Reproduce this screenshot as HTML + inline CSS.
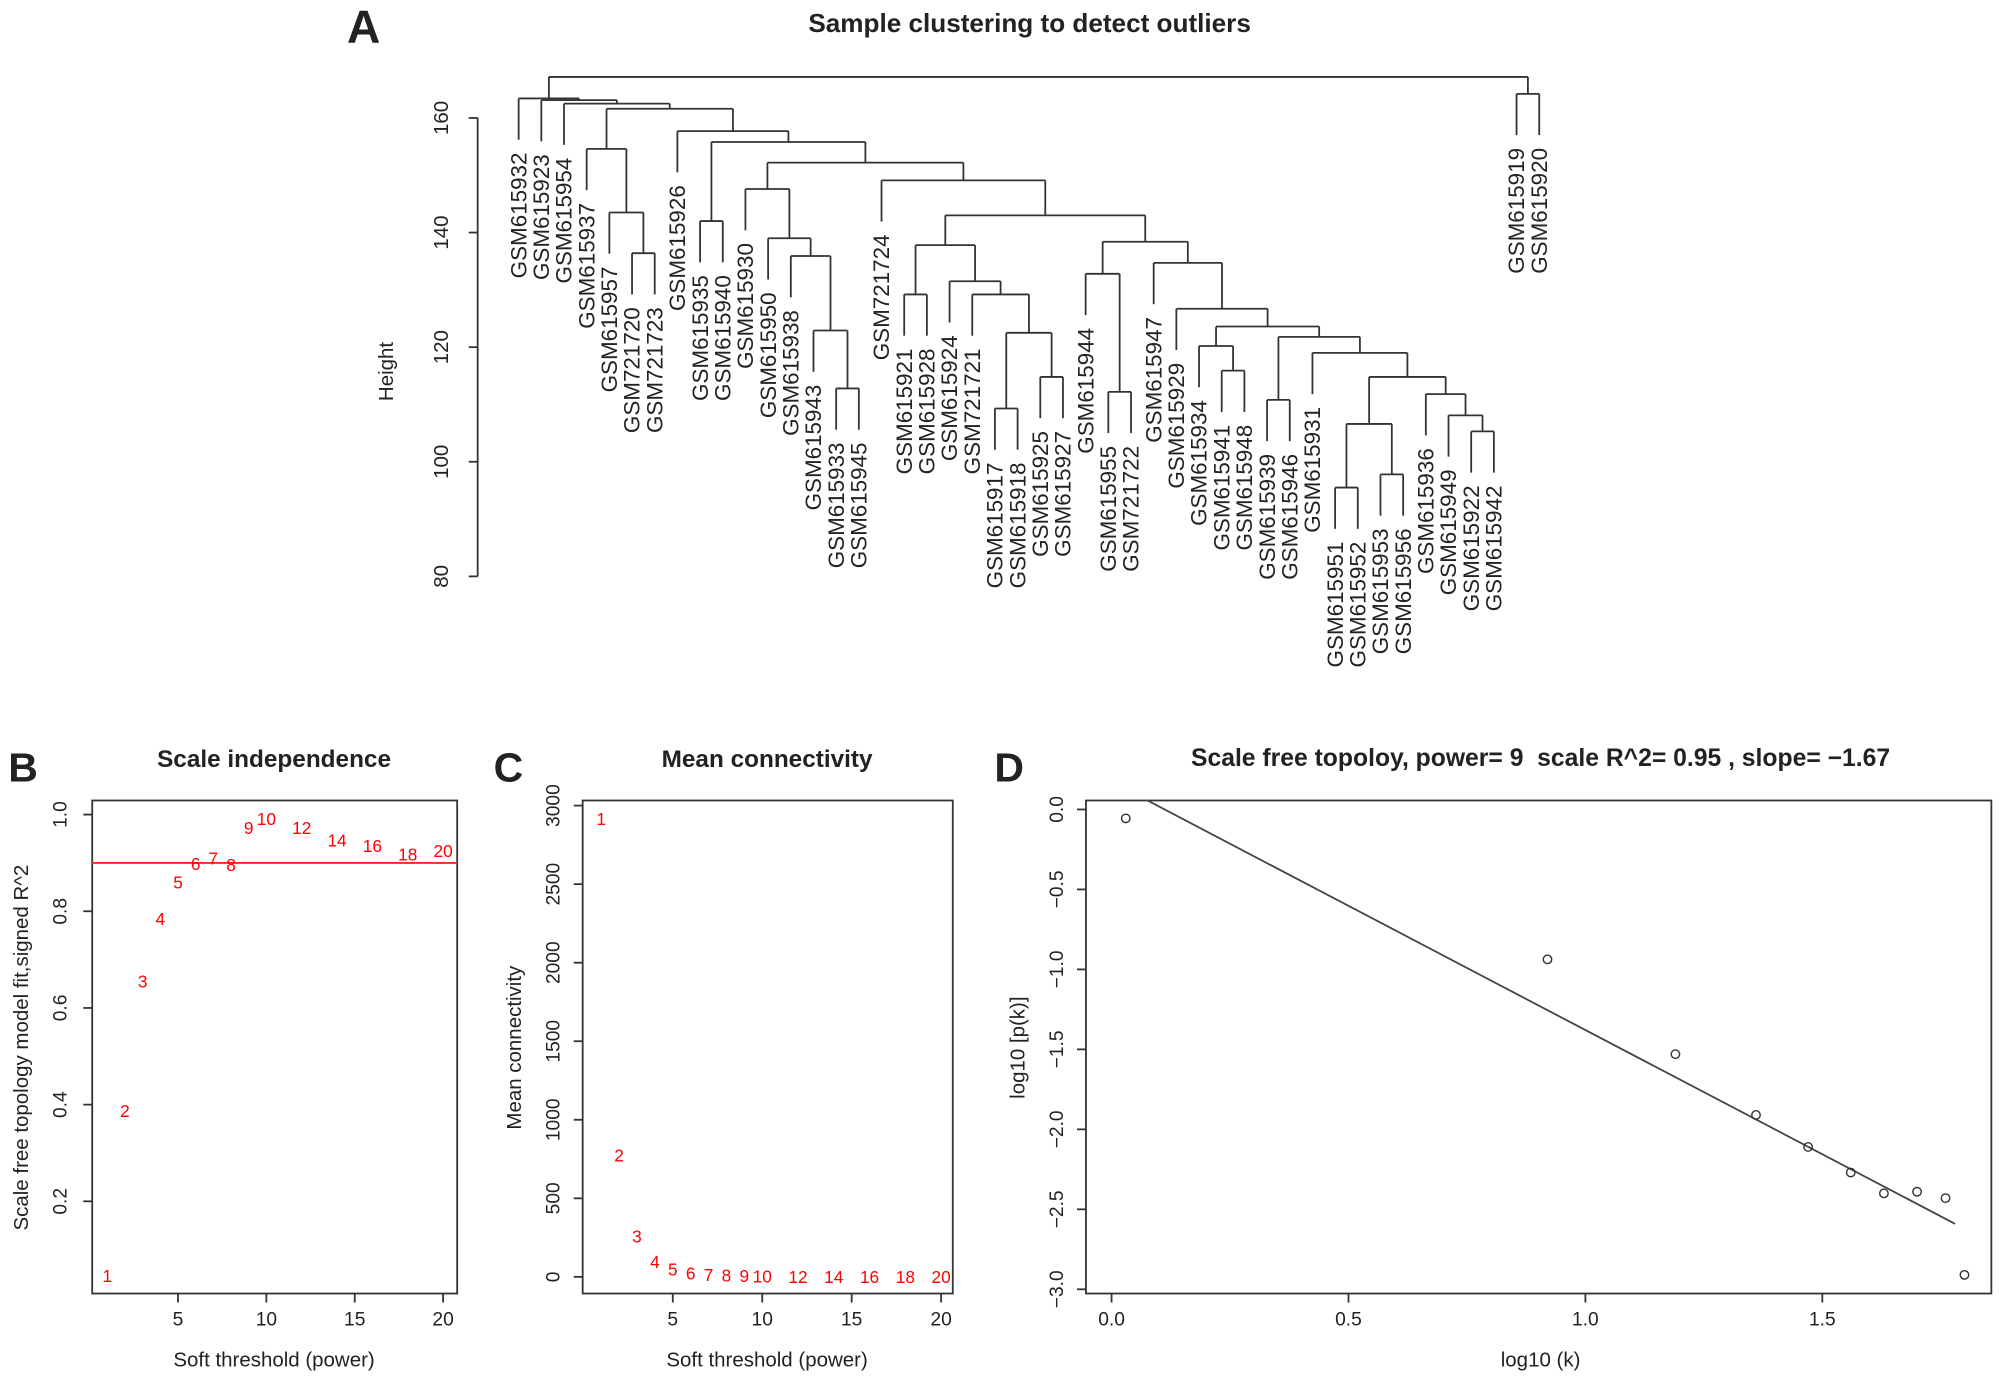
<!DOCTYPE html>
<html><head><meta charset="utf-8"><style>
html,body{margin:0;padding:0;background:#fff;}
svg{display:block;font-family:"Liberation Sans",Arial,sans-serif;}
</style></head><body>
<svg id="fig" width="2008" height="1382" viewBox="0 0 1568 1079" xmlns="http://www.w3.org/2000/svg">
<g id="pa"></g>
<g id="pb"></g>
<g id="pc"></g>
<g id="pd"></g>
</svg>
<script>
// ---------- Data ----------
var sampleNames = ["GSM615932","GSM615923","GSM615954","GSM615937","GSM615957","GSM721720","GSM721723","GSM615926","GSM615935","GSM615940","GSM615930","GSM615950","GSM615938","GSM615943","GSM615933","GSM615945","GSM721724","GSM615921","GSM615928","GSM615924","GSM721721","GSM615917","GSM615918","GSM615925","GSM615927","GSM615944","GSM615955","GSM721722","GSM615947","GSM615929","GSM615934","GSM615941","GSM615948","GSM615939","GSM615946","GSM615931","GSM615951","GSM615952","GSM615953","GSM615956","GSM615936","GSM615949","GSM615922","GSM615942","GSM615919","GSM615920"];
// merges: [left, right, height]; leaves are 1-based indices
var m6_7 = [6,7,136.4];
var m5 = [5,m6_7,143.5];
var m4 = [4,m5,154.6];
var m9_10 = [9,10,142.0];
var m15_16 = [15,16,112.8];
var m14 = [14,m15_16,122.9];
var m13 = [13,m14,135.9];
var m12 = [12,m13,139.0];
var m11 = [11,m12,147.6];
var m18_19 = [18,19,129.2];
var m22_23 = [22,23,109.3];
var m24_25 = [24,25,114.8];
var m22_25 = [m22_23,m24_25,122.5];
var m21 = [21,m22_25,129.2];
var m20 = [20,m21,131.5];
var m18_25 = [m18_19,m20,137.8];
var m27_28 = [27,28,112.2];
var m26 = [26,m27_28,132.8];
var m32_33 = [32,33,115.9];
var m31 = [31,m32_33,120.2];
var m34_35 = [34,35,110.8];
var m37_38 = [37,38,95.5];
var m39_40 = [39,40,97.8];
var m37_40 = [m37_38,m39_40,106.6];
var m43_44 = [43,44,105.3];
var m42 = [42,m43_44,108.1];
var m41 = [41,m42,111.8];
var m37_44 = [m37_40,m41,114.8];
var m36 = [36,m37_44,119.0];
var m34_44 = [m34_35,m36,121.8];
var m31_44 = [m31,m34_44,123.6];
var m30 = [30,m31_44,126.7];
var m29 = [29,m30,134.7];
var m26_44 = [m26,m29,138.4];
var m18_44 = [m18_25,m26_44,143.0];
var m17 = [17,m18_44,149.1];
var m11_44 = [m11,m17,152.2];
var m9_44 = [m9_10,m11_44,155.8];
var m8 = [8,m9_44,157.7];
var m4_44 = [m4,m8,161.6];
var m3 = [3,m4_44,162.5];
var m2 = [2,m3,163.1];
var m1 = [1,m2,163.4];
var m45_46 = [45,46,164.2];
var clusterRoot = [m1,m45_46,167.15];
var heightTicks = [80,100,120,140,160];
var powers = [1,2,3,4,5,6,7,8,9,10,12,14,16,18,20];
var r2Values = [0.046,0.388,0.656,0.785,0.86,0.899,0.91,0.897,0.973,0.992,0.973,0.947,0.936,0.918,0.926];
var r2Cutoff = [0.9];
var meanK = [2918,774,261,98,49,24,15,10,7,5,3,2,1,1,1];
var bTicksX = [5,10,15,20];
var bTicksY = [0.2,0.4,0.6,0.8,1.0];
var cTicksY = [0,500,1000,1500,2000,2500,3000];
var logK = [0.03,0.92,1.19,1.36,1.47,1.56,1.63,1.70,1.76,1.80];
var logPk = [-0.056,-0.937,-1.53,-1.91,-2.11,-2.27,-2.40,-2.39,-2.43,-2.91];
var fitLine = [0.174,-1.553];
var fitRange = [0.0,1.78];
var dTicksX = [0.0,0.5,1.0,1.5];
var dTicksY = [0.0,-0.5,-1.0,-1.5,-2.0,-2.5,-3.0];

var NS = "http://www.w3.org/2000/svg";
var LC = "#333";
function mk(parent, tag, attrs, text){
  var e = document.createElementNS(NS, tag);
  for (var k in attrs) e.setAttribute(k, attrs[k]);
  if (text !== undefined) e.textContent = text;
  parent.appendChild(e);
  return e;
}
function line(p, x1,y1,x2,y2, name, col, w){
  var e = mk(p,"line",{x1:x1,y1:y1,x2:x2,y2:y2,stroke:col||LC,"stroke-width":w||1.4});
  
  
  return e;
}
function txt(p, x,y,s,opts,name){
  var a = {x:x,y:y,"font-size":opts.size||15,"text-anchor":opts.anchor||"middle",fill:opts.fill||"#222"};
  if (opts.bold) a["font-weight"]="bold";
  if (opts.rot) a.transform="rotate(-90 "+x+" "+y+")";
  var e = mk(p,"text",a,s);
  
  
  return e;
}
function box(g, x1,y1,x2,y2){
  var r = mk(g,"rect",{x:x1,y:y1,width:x2-x1,height:y2-y1,fill:"none",stroke:LC,"stroke-width":1.4});
  
  
}

// ---------- Panel A ----------
try {
  var gA = document.getElementById('pa');
  var x0 = 405, dx = 17.71, hang = 7.2;
  var yA = function(h){ return 450 - (h-80)*4.475; };
  var lx = function(i){ return x0 + (i-1)*dx; };
  var drawNode = function(node){
    if (typeof node === 'number') return {x: lx(node), leaf:true, i:node};
    var L = drawNode(node[0]), R = drawNode(node[1]);
    var h = node[2], y = yA(h);
    [L,R].forEach(function(c){
      var yb = c.leaf ? yA(h-hang) : yA(c.h);
      line(gA, c.x, y, c.x, yb, c.leaf ? 'leaf-branch' : 'dendrogram-branch');
      if (c.leaf){
        txt(gA, c.x+6, yb+10, sampleNames[c.i-1], {size:17.5, anchor:"end", rot:true}, 'leaf-label');
      }
    });
    line(gA, L.x, y, R.x, y, 'dendrogram-merge');
    return {x:(L.x+R.x)/2, h:h, leaf:false};
  };
  drawNode(clusterRoot);
  line(gA, 373, yA(80), 373, yA(160), 'y-axis-line');
  heightTicks.forEach(function(t){
    line(gA, 366, yA(t), 373, yA(t), 'y-tick');
    txt(gA, 350, yA(t), String(t), {size:16, rot:true}, 'y-tick-label');
  });
  txt(gA, 307, 290, "Height", {size:16, rot:true}, 'y-axis-title');
  txt(gA, 804, 25, "Sample clustering to detect outliers", {size:20.4, bold:true}, 'chart-title');
  txt(gA, 284, 33, "A", {size:36, bold:true}, 'panel-label-a');
} catch(e) { console.log(e); }

// ---------- Panel B ----------
try {
  var gB = document.getElementById('pb');
  var XB = function(v){ return 70 + v*13.8; };
  var YB = function(v){ return 938 - (v-0.2)*377.5; };
  box(gB, 72, 625, 357, 1010);
  bTicksX.forEach(function(t){ line(gB, XB(t),1010,XB(t),1017,'x-tick'); txt(gB, XB(t), 1035, String(t), {size:15}, 'x-tick-label'); });
  bTicksY.forEach(function(t){ line(gB, 65,YB(t),72,YB(t),'y-tick'); txt(gB, 52, YB(t), t.toFixed(1), {size:15, rot:true}, 'y-tick-label'); });
  line(gB, 72, YB(r2Cutoff[0]), 357, YB(r2Cutoff[0]), 'r2-cutoff-line', '#f22', 1.5);
  powers.forEach(function(p,i){
    txt(gB, XB(p), YB(r2Values[i])+5, String(p), {size:13.5, fill:"#f00"}, 'power-point');
  });
  txt(gB, 214, 1067, "Soft threshold (power)", {size:16}, 'x-axis-title');
  txt(gB, 22, 818, "Scale free topology model fit,signed R^2", {size:16, rot:true}, 'y-axis-title');
  txt(gB, 214, 599, "Scale independence", {size:19, bold:true}, 'chart-title');
  txt(gB, 18, 610, "B", {size:32, bold:true}, 'panel-label-b');
} catch(e) { console.log(e); }

// ---------- Panel C ----------
try {
  var gC = document.getElementById('pc');
  var XC = function(v){ return 455.5 + v*13.97; };
  var YC = function(v){ return 997 - v*0.12267; };
  box(gC, 455, 625, 744, 1010);
  bTicksX.forEach(function(t){ line(gC, XC(t),1010,XC(t),1017,'x-tick'); txt(gC, XC(t), 1035, String(t), {size:15}, 'x-tick-label'); });
  cTicksY.forEach(function(t){ line(gC, 448,YC(t),455,YC(t),'y-tick'); txt(gC, 437, YC(t), String(t), {size:15, rot:true}, 'y-tick-label'); });
  powers.forEach(function(p,i){
    txt(gC, XC(p), YC(meanK[i])+5, String(p), {size:13.5, fill:"#f00"}, 'connectivity-point');
  });
  txt(gC, 599, 1067, "Soft threshold (power)", {size:16}, 'x-axis-title');
  txt(gC, 407, 818, "Mean connectivity", {size:16, rot:true}, 'y-axis-title');
  txt(gC, 599, 599, "Mean connectivity", {size:19, bold:true}, 'chart-title');
  txt(gC, 397, 610, "C", {size:32, bold:true}, 'panel-label-c');
} catch(e) { console.log(e); }

// ---------- Panel D ----------
try {
  var gD = document.getElementById('pd');
  var XD = function(v){ return 868 + v*370; };
  var YD = function(v){ return 632 - v*124.9; };
  box(gD, 848, 625, 1555, 1010);
  dTicksX.forEach(function(t){ line(gD, XD(t),1010,XD(t),1017,'x-tick'); txt(gD, XD(t), 1035, t.toFixed(1), {size:15}, 'x-tick-label'); });
  dTicksY.forEach(function(t){ line(gD, 841,YD(t),848,YD(t),'y-tick'); txt(gD, 830, YD(t), t===0?"0.0":t.toFixed(1).replace('-','\u2212'), {size:15, rot:true}, 'y-tick-label'); });
  var cp = mk(gD,"clipPath",{id:"dclip"});
  mk(cp,"rect",{x:848,y:625,width:707,height:385});
  var fl = mk(gD,"line",{x1:XD(fitRange[0]),y1:YD(fitLine[0]+fitLine[1]*fitRange[0]),x2:XD(fitRange[1]),y2:YD(fitLine[0]+fitLine[1]*fitRange[1]),stroke:"#444","stroke-width":1.4,"clip-path":"url(#dclip)"});
  
  
  logK.forEach(function(k,i){
    var c = mk(gD,"circle",{cx:XD(k),cy:YD(logPk[i]),r:3.3,fill:"none",stroke:"#333","stroke-width":1.1});
    
    
  });
  txt(gD, 1203, 1067, "log10 (k)", {size:16}, 'x-axis-title');
  txt(gD, 800, 818, "log10 [p(k)]", {size:16, rot:true}, 'y-axis-title');
  txt(gD, 1203, 598, "Scale free topoloy, power= 9\u00a0 scale R^2= 0.95 , slope= \u22121.67", {size:19.3, bold:true}, 'chart-title');
  txt(gD, 788, 610, "D", {size:32, bold:true}, 'panel-label-d');
} catch(e) { console.log(e); }
</script>
</body></html>
